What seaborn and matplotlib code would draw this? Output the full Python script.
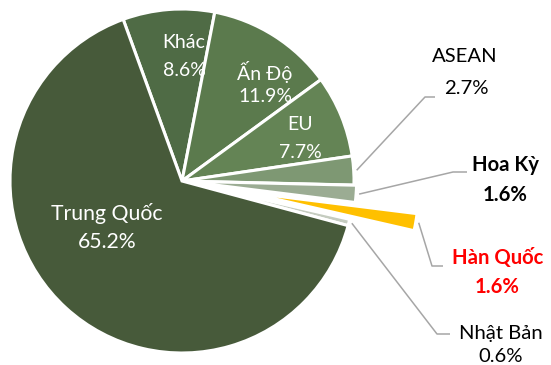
import matplotlib
matplotlib.use("Agg")
import matplotlib.pyplot as plt
import seaborn as sns
import numpy as np

# Export market shares (%) listed clockwise from the top of the pie
markets = ["Khác", "Ấn Độ", "EU", "ASEAN", "Hoa Kỳ", "Hàn Quốc", "Nhật Bản", "Trung Quốc"]
shares = [8.6, 11.9, 7.7, 2.7, 1.6, 1.6, 0.6, 65.2]

colors = ["#4F6B45", "#5B7A4D", "#648455", "#7E9873", "#9BAC93", "#FFC000", "#C5CCC0", "#475A3A"]

sns.set_theme(style="white")
plt.rcParams["font.family"] = ["Lato", "DejaVu Sans"]

W, H = 551, 365
R = 172
# pull-out distances, as a fraction of the radius
explode_frac = [0, 0, 0, 0, 0.015, 0.38, 0, 0]

fig = plt.figure(figsize=(W / 100, H / 100), dpi=100)
ax = fig.add_axes([0, 0, 1, 1])


def py(y):
    """Convert a top-down pixel row to the axes' y coordinate."""
    return H - y


wedges, _ = ax.pie(
    shares,
    colors=colors,
    explode=[e * R for e in explode_frac],
    startangle=110,
    counterclock=False,
    center=(182, py(181)),
    radius=R,
    wedgeprops=dict(edgecolor="white", linewidth=2.2),
    frame=True,
)
ax.set_xlim(0, W)
ax.set_ylim(0, H)
ax.set_aspect("equal")
ax.axis("off")

# Labels drawn inside the larger slices
inside = {
    "Khác": ((184, 43), (184, 70), 14),
    "Ấn Độ": ((265, 72), (265, 97), 14),
    "EU": ((300, 124), (300, 152), 14),
    "Trung Quốc": ((107, 213), (107, 242), 15.3),
}
for name, (p1, p2, fs) in inside.items():
    v = shares[markets.index(name)]
    ax.text(p1[0], py(p1[1]), name, color="white", fontsize=fs, ha="center", va="center")
    ax.text(p2[0], py(p2[1]), f"{v:.1f}%", color="white", fontsize=fs, ha="center", va="center")

# Callout labels for the small slices: name pos, value pos, elbow, line end, style
outside = {
    "ASEAN": ((465, 57), (466, 89), (425, 97), (435, 97), "normal", "black"),
    "Hoa Kỳ": ((505, 165), (505, 195), (453, 172), (467, 172), "bold", "black"),
    "Hàn Quốc": ((498, 258), (497, 287), (432, 266), (443, 266), "bold", "#FF0000"),
    "Nhật Bản": ((501, 334), (501, 356), (437, 334), (450, 334), "normal", "black"),
}
for name, (p1, p2, elbow, end, weight, col) in outside.items():
    i = markets.index(name)
    w = wedges[i]
    mid = np.deg2rad((w.theta1 + w.theta2) / 2)
    cx, cy = w.center
    sx = cx + (w.r + 3) * np.cos(mid)
    sy = cy + (w.r + 3) * np.sin(mid)
    ax.plot([sx, elbow[0], end[0]], [sy, py(elbow[1]), py(end[1])],
            color="#A6A6A6", lw=1.1, solid_capstyle="butt")
    ax.text(p1[0], py(p1[1]), name, color=col, fontsize=14.6, fontweight=weight,
            ha="center", va="center")
    ax.text(p2[0], py(p2[1]), f"{shares[i]:.1f}%", color=col, fontsize=14.6,
            fontweight=weight, ha="center", va="center")

fig.savefig("out.png", dpi=100, facecolor="white")
